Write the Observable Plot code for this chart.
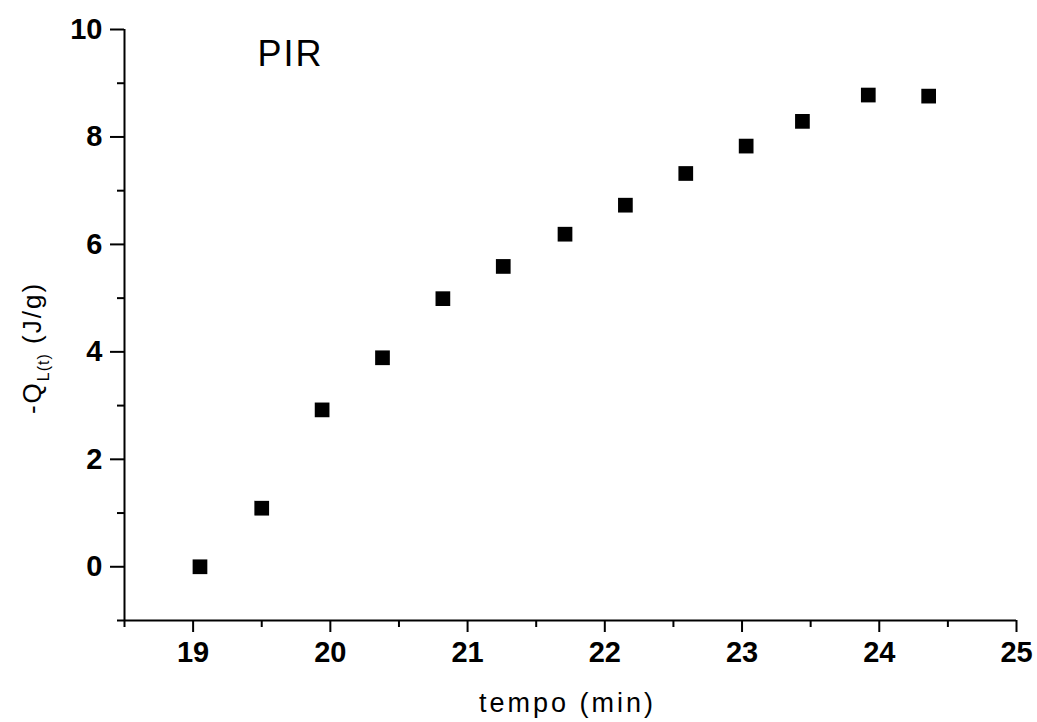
<!DOCTYPE html>
<html>
<head>
<meta charset="utf-8">
<script src="https://cdn.jsdelivr.net/npm/d3@7"></script>
<script src="https://cdn.jsdelivr.net/npm/@observablehq/plot@0.6"></script>
<style>
  html, body { margin: 0; padding: 0; background: #fff; color: #000; }
  #chart { width: 1037px; height: 722px; }
</style>
</head>
<body>
<div id="chart"></div>
<script>
// Data
const tempo = [19.05, 19.50, 19.94, 20.38, 20.82, 21.26, 21.71, 22.15, 22.59, 23.03, 23.44, 23.92, 24.36];
const qL    = [0.00, 1.09, 2.92, 3.89, 4.99, 5.59, 6.19, 6.73, 7.32, 7.83, 8.29, 8.78, 8.76];

const xDomain = [18.5, 25];
const yDomain = [-1, 10];
const xMajor = [19, 20, 21, 22, 23, 24, 25];
const xMinor = [18.5, 19.5, 20.5, 21.5, 22.5, 23.5, 24.5];
const yMajor = [0, 2, 4, 6, 8, 10];
const yMinor = [-1, 1, 3, 5, 7, 9];

const xTitle = "tempo (min)";
const seriesLabel = ["PIR"];

const data = tempo.map((t, i) => ({tempo: t, q: qL[i]}));

const font = "'Liberation Sans', Arial, sans-serif";
const axisStroke = {stroke: "#000", strokeWidth: 2, strokeOpacity: 1};

const chart = Plot.plot({
  width: 1037,
  height: 722,
  marginLeft: 124,
  marginRight: 21,
  marginTop: 29,
  marginBottom: 102,
  style: {fontFamily: font, background: "#fff", color: "#000", overflow: "visible"},
  x: {domain: xDomain},
  y: {domain: yDomain},
  marks: [
    Plot.ruleX([xDomain[0]], axisStroke),
    Plot.ruleY([yDomain[0]], axisStroke),
    Plot.axisY({ticks: yMinor, tickSize: 7, text: null, label: null, ...axisStroke}),
    Plot.axisY({ticks: yMajor, tickSize: 14, tickPadding: 8, fontSize: 29, fontWeight: "bold", label: null, ...axisStroke, fill: "#000", tickFormat: d => String(d)}),
    Plot.axisX({ticks: xMinor, tickSize: 7, text: null, label: null, ...axisStroke}),
    Plot.axisX({ticks: xMajor, tickSize: 12, tickPadding: 9, fontSize: 29, fontWeight: "bold", label: null, ...axisStroke, fill: "#000", tickFormat: d => String(d)}),
    Plot.dot(data, {x: "tempo", y: "q", symbol: "square", r: 8.3, fill: "#000", stroke: null}),
    Plot.text(seriesLabel, {frameAnchor: "top-left", textAnchor: "start", lineAnchor: "top", dx: 133, dy: 11, fontSize: 36, fill: "#000"}),
    Plot.text([xTitle], {frameAnchor: "bottom", lineAnchor: "bottom", dx: -3, dy: 91, fontSize: 27, fill: "#000"})
  ]
});

document.getElementById("chart").appendChild(chart);

const svg = d3.select(chart);
// letter spacing for the titles
svg.selectAll("text").filter(function() { return this.textContent === xTitle || this.textContent === "PIR"; })
   .attr("letter-spacing", function() { return this.textContent === "PIR" ? 2 : 3; });

// Y axis title with subscript
const yt = svg.append("text")
  .attr("transform", "translate(41,348) rotate(-90)")
  .attr("text-anchor", "middle")
  .attr("font-family", font)
  .attr("font-size", 26)
  .attr("letter-spacing", 2)
  .attr("fill", "#000");
yt.append("tspan").text("-Q");
yt.append("tspan").attr("font-size", 16).attr("dy", 8).attr("letter-spacing", 1).text("L(t)");
yt.append("tspan").attr("dy", -8).text(" (J/g)");
</script>
</body>
</html>
